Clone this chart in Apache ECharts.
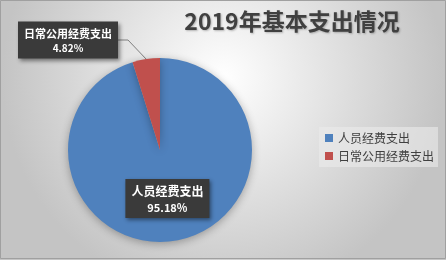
<!DOCTYPE html>
<html><head><meta charset="utf-8">
<script src="https://cdn.jsdelivr.net/npm/echarts@6/dist/echarts.min.js"></script>
<style>html,body{margin:0;padding:0;}#c{width:446px;height:260px;}</style>
</head><body><div id="c"></div>
<script>
var categories = ['人员经费支出', '日常公用经费支出'];
var values = [95.18, 4.82];
var colors = ['#4f81bd', '#c0504d'];
var title = '2019年基本支出情况';

var chart = echarts.init(document.getElementById('c'));
var font = '"Noto Sans CJK SC", sans-serif';
chart.setOption({
  backgroundColor: {type: 'radial', x: 0.5, y: 0.3, r: 0.85,
    colorStops: [{offset: 0, color: '#ffffff'}, {offset: 1, color: '#c4c4c4'}]},
  title: {text: title, left: 287, top: 5, textAlign: 'center',
    textStyle: {fontFamily: font, fontSize: 23, fontWeight: 'bold', color: '#404040',
      textShadowColor: 'rgba(0,0,0,0.25)', textShadowBlur: 2, textShadowOffsetX: 1, textShadowOffsetY: 1}},
  legend: {orient: 'vertical', left: 319, top: 127, itemWidth: 8, itemHeight: 8, itemGap: 6,
    icon: 'rect', backgroundColor: 'rgba(235,235,235,0.6)', padding: [5, 4, 5, 6],
    textStyle: {fontFamily: font, fontSize: 12, color: '#404040'}, data: categories},
  graphic: [{type: 'rect', shape: {x: 0.5, y: 0.5, width: 445, height: 258},
    style: {fill: 'none', stroke: '#a0a0a0', lineWidth: 1}, silent: true}],
  series: [{
    type: 'pie', center: [160, 150], radius: 92, startAngle: 90, clockwise: true,
    itemStyle: {shadowBlur: 8, shadowColor: 'rgba(0,0,0,0.3)', shadowOffsetY: 2},
    data: categories.map(function (n, i) {
      return {name: n, value: values[i], itemStyle: {color: colors[i]}};
    }),
    label: {
      position: 'inside', formatter: function (p) { return '{a|' + p.name + '}\n{b|' + p.value.toFixed(2) + '%}'; },
      backgroundColor: '#3a3a3a', padding: [4, 6, 3, 6],
      shadowColor: 'rgba(0,0,0,0.45)', shadowBlur: 4, shadowOffsetX: 2, shadowOffsetY: 2,
      rich: {
        a: {fontFamily: font, fontSize: 12, fontWeight: 'bold', color: '#ffffff', lineHeight: 17, align: 'center'},
        b: {fontFamily: font, fontSize: 11, fontWeight: 'bold', color: '#ffffff', lineHeight: 15, align: 'center'}
      }
    },
    labelLine: {show: true, length: 10, length2: 10, lineStyle: {color: '#7f7f7f', width: 1}},
    labelLayout: function (p) {
      if (p.dataIndex === 1) return {x: 68, y: 40, align: 'center', verticalAlign: 'middle'};
      return {};
    }
  }]
});
chart.setOption({series: [{data: [
  {name: categories[0], value: values[0], itemStyle: {color: colors[0]}, label: {position: 'inside'}, labelLine: {show: false}},
  {name: categories[1], value: values[1], itemStyle: {color: colors[1]}, label: {position: 'outside', fontSize: 11,
    rich: {a: {fontFamily: font, fontSize: 11, fontWeight: 'bold', color: '#fff', lineHeight: 16, align: 'center'},
           b: {fontFamily: font, fontSize: 10, fontWeight: 'bold', color: '#fff', lineHeight: 14, align: 'center'}}}}
]}]});
</script></body></html>
